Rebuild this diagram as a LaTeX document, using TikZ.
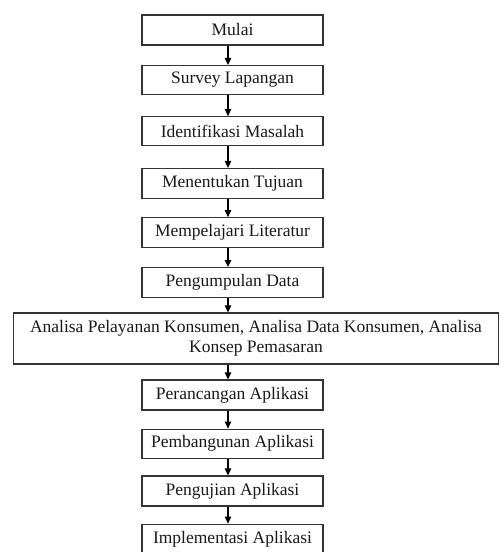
\documentclass[tikz,border=0pt]{standalone}
\usepackage{fontspec}
\setmainfont{Liberation Serif}
\usetikzlibrary{arrows.meta}
\tikzset{
  stepbox/.style={draw=black!80, line width=1.2pt, minimum width=181pt, minimum height=30pt,
    inner sep=0pt, font=\fontsize{17.5pt}{20pt}\selectfont, text=black!90, fill=white},
  widebox/.style={stepbox, minimum width=485pt, minimum height=51pt, align=center},
  flow/.style={draw=black, line width=1.1pt, -{Stealth[length=7pt,width=6.5pt,inset=0pt]}}
}
\begin{document}
\begin{tikzpicture}[x=1pt,y=1pt]
\useasboundingbox (0,0) rectangle (501,-552);
\fill[white] (0,0) rectangle (501,-552);
\coordinate (ax) at (228,0);
\node[stepbox] (b1) at (232.5,-30) {Mulai};
\node[stepbox, minimum height=29pt] (b2) at (232.5,-80) {Survey Lapangan};
\node[stepbox, minimum height=29pt] (b3) at (232.5,-131.2) {Identifikasi Masalah};
\node[stepbox] (b4) at (232.5,-183.5) {Menentukan Tujuan};
\node[stepbox] (b5) at (232.5,-232.7) {Mempelajari Literatur};
\node[stepbox] (b6) at (232.5,-282.6) {Pengumpulan Data};
\node[widebox] (b7) at (256,-338.5) {Analisa Pelayanan Konsumen, Analisa Data Konsumen, Analisa\\Konsep Pemasaran};
\node[stepbox] (b8) at (232.5,-395) {Perancangan Aplikasi};
\node[stepbox, minimum height=29pt] (b9) at (232.5,-443.7) {Pembangunan Aplikasi};
\node[stepbox] (b10) at (232.5,-491) {Pengujian Aplikasi};
\node[stepbox] (b11) at (232.5,-539.2) {Implementasi Aplikasi};
\foreach \a/\b in {b1/b2,b2/b3,b3/b4,b4/b5,b5/b6,b6/b7,b7/b8,b8/b9,b9/b10,b10/b11}{
  \draw[flow] (\a.south -| ax) -- (\b.north -| ax);
}
\end{tikzpicture}
\end{document}
